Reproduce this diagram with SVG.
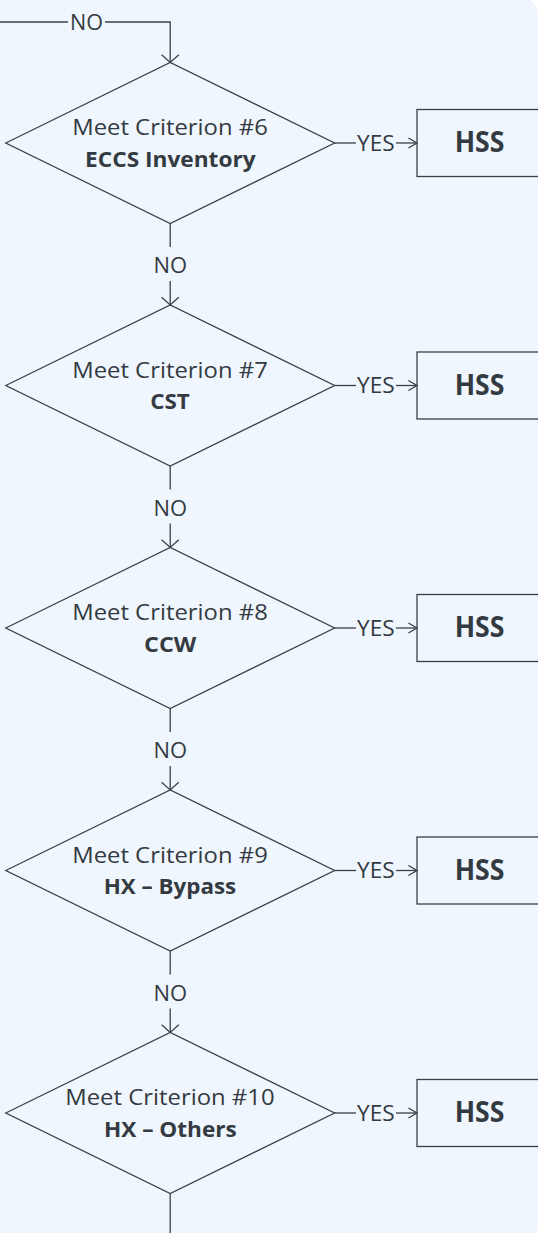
<svg xmlns="http://www.w3.org/2000/svg" width="538" height="1233" viewBox="0 0 538 1233">
  <style>
    .bg { fill: #EFF6FE; }
    .shape { fill: none; stroke: #3A4047; stroke-width: 1.3; }
    .line { fill: none; stroke: #3A4047; stroke-width: 1.3; }
    .lbl { font-family: "Open Sans", "Liberation Sans", sans-serif; fill: #343A41; text-anchor: middle; }
    .reg { font-size: 22px; font-weight: 400; }
    .bold { font-size: 22px; font-weight: 700; }
    .hss { font-size: 28px; font-weight: 700; }
    .edge { font-size: 21px; font-weight: 400; }
  </style>
  <defs>
    <marker id="arrH" viewBox="-10 -6 12 12" refX="0" refY="0" markerWidth="12" markerHeight="12" markerUnits="userSpaceOnUse" orient="auto">
      <path d="M-8.6,-5 L0,0 L-8.6,5" fill="none" stroke="#3A4047" stroke-width="1.3"/>
    </marker>
    <marker id="arrV" viewBox="-10 -10 12 20" refX="0" refY="0" markerWidth="12" markerHeight="20" markerUnits="userSpaceOnUse" orient="auto">
      <path d="M-7.7,-8.6 L0,0 L-7.7,8.6" fill="none" stroke="#3A4047" stroke-width="1.3"/>
    </marker>
  </defs>

  <!-- page background -->
  <rect class="bg" x="-20" y="-3" width="558" height="1246" rx="18" ry="18"/>

  <!-- connectors -->
  <g id="connectors">
    <!-- incoming NO branch -->
    <path class="line" d="M-2,22 H68"/>
    <path class="line" d="M105,22 H170.2 V62.5" marker-end="url(#arrV)"/>
    <text class="lbl edge" x="86.6" y="30" textLength="33" lengthAdjust="spacingAndGlyphs">NO</text>

    <!-- NO links between decisions -->
    <path class="line" d="M170.2,223.5 V247"/>
    <path class="line" d="M170.2,281 V305" marker-end="url(#arrV)"/>
    <text class="lbl edge" x="170.2" y="273.3" textLength="33.6" lengthAdjust="spacingAndGlyphs">NO</text>

    <path class="line" d="M170.2,466 V489.5"/>
    <path class="line" d="M170.2,523.5 V547.5" marker-end="url(#arrV)"/>
    <text class="lbl edge" x="170.2" y="515.8" textLength="33.6" lengthAdjust="spacingAndGlyphs">NO</text>

    <path class="line" d="M170.2,708.5 V732"/>
    <path class="line" d="M170.2,766 V790" marker-end="url(#arrV)"/>
    <text class="lbl edge" x="170.2" y="758.3" textLength="33.6" lengthAdjust="spacingAndGlyphs">NO</text>

    <path class="line" d="M170.2,951 V974.5"/>
    <path class="line" d="M170.2,1008.5 V1032.5" marker-end="url(#arrV)"/>
    <text class="lbl edge" x="170.2" y="1000.8" textLength="33.6" lengthAdjust="spacingAndGlyphs">NO</text>

    <!-- outgoing line below last decision -->
    <path class="line" d="M170.2,1193.5 V1236"/>

    <!-- YES links to HSS boxes -->
    <path class="line" d="M334.6,143 H356"/>
    <path class="line" d="M396,143 H417" marker-end="url(#arrH)"/>
    <text class="lbl edge" x="375.8" y="150.6" textLength="37.6" lengthAdjust="spacingAndGlyphs">YES</text>

    <path class="line" d="M334.6,385.5 H356"/>
    <path class="line" d="M396,385.5 H417" marker-end="url(#arrH)"/>
    <text class="lbl edge" x="375.8" y="393.1" textLength="37.6" lengthAdjust="spacingAndGlyphs">YES</text>

    <path class="line" d="M334.6,628 H356"/>
    <path class="line" d="M396,628 H417" marker-end="url(#arrH)"/>
    <text class="lbl edge" x="375.8" y="635.6" textLength="37.6" lengthAdjust="spacingAndGlyphs">YES</text>

    <path class="line" d="M334.6,870.5 H356"/>
    <path class="line" d="M396,870.5 H417" marker-end="url(#arrH)"/>
    <text class="lbl edge" x="375.8" y="878.1" textLength="37.6" lengthAdjust="spacingAndGlyphs">YES</text>

    <path class="line" d="M334.6,1113 H356"/>
    <path class="line" d="M396,1113 H417" marker-end="url(#arrH)"/>
    <text class="lbl edge" x="375.8" y="1120.6" textLength="37.6" lengthAdjust="spacingAndGlyphs">YES</text>
  </g>

  <!-- decisions -->
  <g id="criterion6">
    <polygon class="shape" points="5.8,143 170.2,62.5 334.6,143 170.2,223.5"/>
    <text class="lbl reg" x="170" y="135" textLength="195.6" lengthAdjust="spacingAndGlyphs">Meet Criterion #6</text>
    <text class="lbl bold" x="170.4" y="166.7" textLength="170.6" lengthAdjust="spacingAndGlyphs">ECCS Inventory</text>
  </g>
  <g id="criterion7">
    <polygon class="shape" points="5.8,385.5 170.2,305 334.6,385.5 170.2,466"/>
    <text class="lbl reg" x="170" y="377.5" textLength="195.6" lengthAdjust="spacingAndGlyphs">Meet Criterion #7</text>
    <text class="lbl bold" x="170" y="409.2" textLength="39.5" lengthAdjust="spacingAndGlyphs">CST</text>
  </g>
  <g id="criterion8">
    <polygon class="shape" points="5.8,628 170.2,547.5 334.6,628 170.2,708.5"/>
    <text class="lbl reg" x="170" y="620" textLength="195.6" lengthAdjust="spacingAndGlyphs">Meet Criterion #8</text>
    <text class="lbl bold" x="170.2" y="651.7" textLength="52.2" lengthAdjust="spacingAndGlyphs">CCW</text>
  </g>
  <g id="criterion9">
    <polygon class="shape" points="5.8,870.5 170.2,790 334.6,870.5 170.2,951"/>
    <text class="lbl reg" x="170" y="862.5" textLength="195.6" lengthAdjust="spacingAndGlyphs">Meet Criterion #9</text>
    <text class="lbl bold" x="169.9" y="894.2" textLength="132.5" lengthAdjust="spacingAndGlyphs">HX – Bypass</text>
  </g>
  <g id="criterion10">
    <polygon class="shape" points="5.8,1113 170.2,1032.5 334.6,1113 170.2,1193.5"/>
    <text class="lbl reg" x="169.9" y="1105" textLength="209.3" lengthAdjust="spacingAndGlyphs">Meet Criterion #10</text>
    <text class="lbl bold" x="170.4" y="1136.7" textLength="132.8" lengthAdjust="spacingAndGlyphs">HX – Others</text>
  </g>

  <!-- outcomes -->
  <g id="hss6">
    <rect class="shape" x="417" y="109.5" width="125" height="67"/>
    <text class="lbl hss" x="479.6" y="152.3" textLength="49.8" lengthAdjust="spacingAndGlyphs">HSS</text>
  </g>
  <g id="hss7">
    <rect class="shape" x="417" y="352" width="125" height="67"/>
    <text class="lbl hss" x="479.6" y="394.8" textLength="49.8" lengthAdjust="spacingAndGlyphs">HSS</text>
  </g>
  <g id="hss8">
    <rect class="shape" x="417" y="594.5" width="125" height="67"/>
    <text class="lbl hss" x="479.6" y="637.3" textLength="49.8" lengthAdjust="spacingAndGlyphs">HSS</text>
  </g>
  <g id="hss9">
    <rect class="shape" x="417" y="837" width="125" height="67"/>
    <text class="lbl hss" x="479.6" y="879.8" textLength="49.8" lengthAdjust="spacingAndGlyphs">HSS</text>
  </g>
  <g id="hss10">
    <rect class="shape" x="417" y="1079.5" width="125" height="67"/>
    <text class="lbl hss" x="479.6" y="1122.3" textLength="49.8" lengthAdjust="spacingAndGlyphs">HSS</text>
  </g>
</svg>
